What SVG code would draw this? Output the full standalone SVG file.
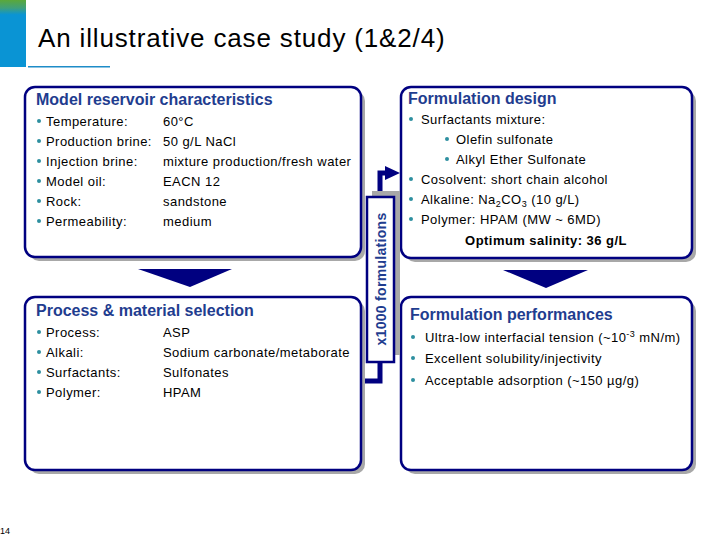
<svg xmlns="http://www.w3.org/2000/svg" width="720" height="540" viewBox="0 0 720 540">
<defs>
<linearGradient id="hdr" x1="0" y1="0" x2="0" y2="1">
<stop offset="0" stop-color="#5aa83a"/>
<stop offset="0.12" stop-color="#3fa07a"/>
<stop offset="0.22" stop-color="#0a94d4"/>
<stop offset="1" stop-color="#0a94d4"/>
</linearGradient>
</defs>
<style>
.box{fill:#fff;stroke:#000080;stroke-width:2.5}
.shd{fill:#a8a8a8}
.ttl{font-family:"Liberation Sans",Arial,sans-serif;font-weight:bold;font-size:16px;fill:#1f3d8f}
.t{font-family:"Liberation Sans",Arial,sans-serif;font-size:13px;letter-spacing:0.45px;fill:#000}
.b{fill:#2e8fa0}
.tri{fill:#000080}
.con{fill:none;stroke:#000080;stroke-width:5}
</style>
<rect width="720" height="540" fill="#fff"/>
<g id="header">
<rect x="0" y="0" width="26" height="67" fill="url(#hdr)"/>
<rect x="28" y="66" width="82" height="1.5" fill="#1e8cc8"/>
<text x="38" y="47" font-family="Liberation Sans,Arial,sans-serif" font-size="26" letter-spacing="0.85" fill="#000">An illustrative case study (1&amp;2/4)</text>
</g>
<g id="connectors">
<polygon class="tri" points="138,269 232,269 190,287"/>
<polygon class="tri" points="503,270 588,270 546,288"/>
<polyline class="con" points="380,199 380,173 386,173"/>
<polygon class="tri" points="385,166 400,173 385,180"/>
<polyline class="con" points="380,360 380,381 362,381"/>
</g>
<g id="box1">
<rect class="shd" x="29" y="91" width="336" height="170" rx="10"/>
<rect class="box" x="25" y="87" width="336" height="170" rx="10"/>
<text class="ttl" x="36" y="105">Model reservoir characteristics</text>
<text class="t" x="46" y="126">Temperature:</text><text class="t" x="163" y="126">60°C</text>
<text class="t" x="46" y="146">Production brine:</text><text class="t" x="163" y="146">50 g/L NaCl</text>
<text class="t" x="46" y="166">Injection brine:</text><text class="t" x="163" y="166">mixture production/fresh water</text>
<text class="t" x="46" y="186">Model oil:</text><text class="t" x="163" y="186">EACN 12</text>
<text class="t" x="46" y="206">Rock:</text><text class="t" x="163" y="206">sandstone</text>
<text class="t" x="46" y="226">Permeability:</text><text class="t" x="163" y="226">medium</text>
<circle class="b" cx="39" cy="121" r="2"/><circle class="b" cx="39" cy="141" r="2"/><circle class="b" cx="39" cy="161" r="2"/>
<circle class="b" cx="39" cy="181" r="2"/><circle class="b" cx="39" cy="201" r="2"/><circle class="b" cx="39" cy="221" r="2"/>
</g>
<g id="box2">
<rect class="shd" x="29" y="301" width="336" height="173" rx="10"/>
<rect class="box" x="25" y="297" width="336" height="173" rx="10"/>
<text class="ttl" x="36" y="316">Process &amp; material selection</text>
<text class="t" x="46" y="337">Process:</text><text class="t" x="163" y="337">ASP</text>
<text class="t" x="46" y="357">Alkali:</text><text class="t" x="163" y="357">Sodium carbonate/metaborate</text>
<text class="t" x="46" y="377">Surfactants:</text><text class="t" x="163" y="377">Sulfonates</text>
<text class="t" x="46" y="397">Polymer:</text><text class="t" x="163" y="397">HPAM</text>
<circle class="b" cx="39" cy="332" r="2"/><circle class="b" cx="39" cy="352" r="2"/><circle class="b" cx="39" cy="372" r="2"/><circle class="b" cx="39" cy="392" r="2"/>
</g>
<g id="box3">
<rect class="shd" x="405" y="91" width="291" height="171" rx="10"/>
<rect class="box" x="401" y="87" width="291" height="171" rx="10"/>
<text class="ttl" x="408" y="104">Formulation design</text>
<text class="t" x="421" y="124">Surfactants mixture:</text>
<text class="t" x="456" y="144">Olefin sulfonate</text>
<text class="t" x="456" y="164">Alkyl Ether Sulfonate</text>
<text class="t" x="421" y="184">Cosolvent: short chain alcohol</text>
<text class="t" x="421" y="204">Alkaline: Na<tspan font-size="9" dy="3">2</tspan><tspan dy="-3">CO</tspan><tspan font-size="9" dy="3">3</tspan><tspan dy="-3"> (10 g/L)</tspan></text>
<text class="t" x="421" y="224">Polymer: HPAM (MW ~ 6MD)</text>
<text class="t" x="546" y="245" text-anchor="middle" font-weight="bold" letter-spacing="0">Optimum salinity: 36 g/L</text>
<circle class="b" cx="411" cy="119" r="2"/><circle class="b" cx="447" cy="139" r="2"/><circle class="b" cx="447" cy="159" r="2"/>
<circle class="b" cx="411" cy="179" r="2"/><circle class="b" cx="411" cy="199" r="2"/><circle class="b" cx="411" cy="219" r="2"/>
</g>
<g id="box4">
<rect class="shd" x="405" y="301" width="291" height="173" rx="10"/>
<rect class="box" x="401" y="297" width="291" height="173" rx="10"/>
<text class="ttl" x="410" y="320">Formulation performances</text>
<text class="t" x="425" y="342">Ultra-low interfacial tension (~10<tspan font-size="9" dy="-5">-3</tspan><tspan dy="5"> mN/m)</tspan></text>
<text class="t" x="425" y="363">Excellent solubility/injectivity</text>
<text class="t" x="425" y="385">Acceptable adsorption (~150 µg/g)</text>
<circle class="b" cx="413" cy="337" r="2"/><circle class="b" cx="413" cy="358" r="2"/><circle class="b" cx="413" cy="380" r="2"/>
</g>
<g id="label">
<rect class="shd" x="372" y="191" width="28" height="164"/>
<rect x="367" y="197" width="27" height="165" fill="#fff" stroke="#000080" stroke-width="2.5"/>
<text transform="translate(386,279) rotate(-90)" text-anchor="middle" font-family="Liberation Sans,Arial,sans-serif" font-weight="bold" font-size="14" letter-spacing="0.3" fill="#1f3d8f">x1000 formulations</text>
</g>
<text x="0" y="534" font-family="Liberation Sans,Arial,sans-serif" font-size="9" fill="#000">14</text>
</svg>
